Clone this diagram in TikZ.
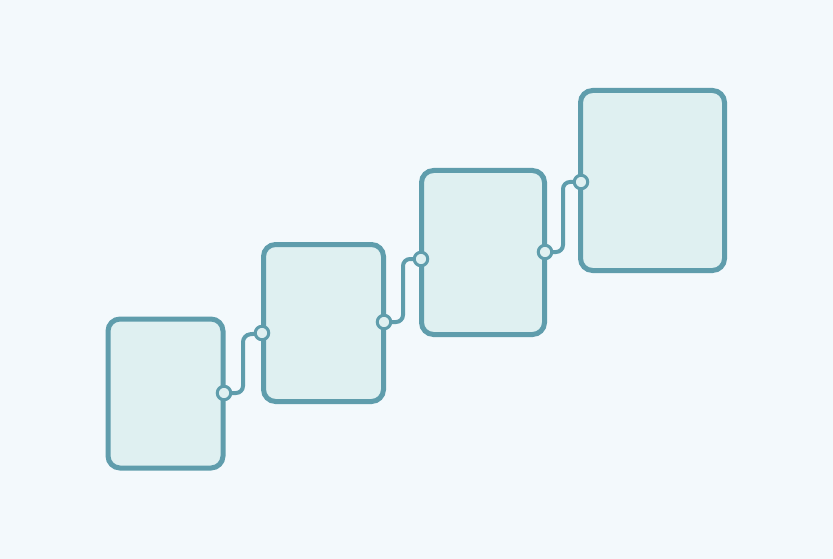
\documentclass[tikz,border=0pt]{standalone}
\definecolor{bgc}{HTML}{F3F9FC}
\definecolor{boxfill}{HTML}{DFF0F1}
\definecolor{edge}{HTML}{5F9DAC}
\begin{document}
\begin{tikzpicture}[x=1pt,y=-1pt,
  card/.style={draw=edge,fill=boxfill,line width=5pt,rounded corners=12pt},
  wire/.style={draw=edge,line width=4pt,rounded corners=7pt},
  port/.style={circle,draw=edge,fill=boxfill,line width=3pt,minimum size=13.5pt,inner sep=0pt}]
\fill[bgc] (0,0) rectangle (833,559);
\useasboundingbox (0,0) rectangle (833,559);
\draw[card] (108,319) rectangle (223,468);
\draw[card] (263.5,244.5) rectangle (383.5,401.5);
\draw[card] (421.5,170.5) rectangle (544.5,334.5);
\draw[card] (580.5,90.5) rectangle (724.5,270.5);
\coordinate (p1) at (224,393);
\coordinate (p2) at (262,333);
\coordinate (p3) at (384,322);
\coordinate (p4) at (421,259);
\coordinate (p5) at (545,252);
\coordinate (p6) at (581,182);
\draw[wire] (p1) -| (243,335) -- (p2);
\draw[wire] (p3) -| (403,259) -- (p4);
\draw[wire] (p5) -| (563,182) -- (p6);
\foreach \p in {p1,p2,p3,p4,p5,p6} \node[port] (n\p) at (\p) {};
\end{tikzpicture}
\end{document}
